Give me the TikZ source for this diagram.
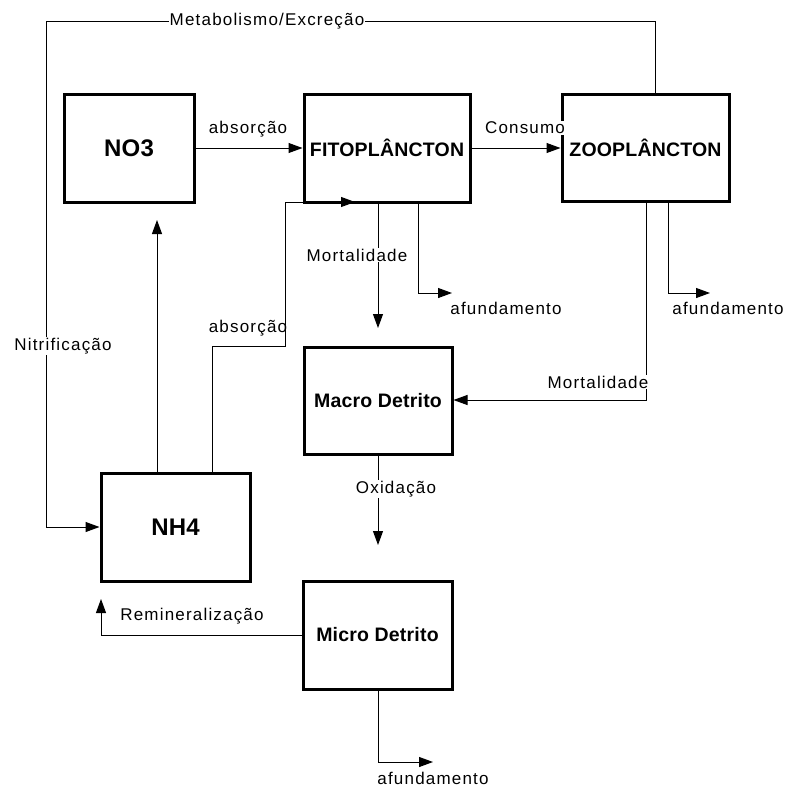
\documentclass[tikz,border=0pt]{standalone}
\usepackage{fontspec}
\setmainfont{Liberation Sans}
\newfontfamily\lblfont[LetterSpace=7]{Liberation Sans}
\newfontfamily\boxfont[LetterSpace=1]{Liberation Sans}
\usetikzlibrary{arrows.meta}
\tikzset{
  blk/.style={draw, line width=3pt, rectangle, inner sep=0pt, align=center,
    font=\boxfont\bfseries\fontsize{19.5}{22}\selectfont},
  bigblk/.style={blk, font=\boxfont\bfseries\fontsize{24}{26}\selectfont},
  arr/.style={line width=1pt, -{Triangle[length=14pt,width=10pt]}},
  ln/.style={line width=1pt},
  lbl/.style={inner sep=1pt, font=\lblfont\fontsize{17}{19}\selectfont},
  wlbl/.style={lbl, fill=white},
}
\begin{document}
\begin{tikzpicture}[x=1pt,y=-1pt]
\path[use as bounding box] (0,0) rectangle (787,788);

% boxes
\node[bigblk, minimum width=130pt, minimum height=108pt] (no3) at (129,148) {NO3};
\node[blk, minimum width=166pt, minimum height=108pt] (fito) at (387,148) {FITOPLÂNCTON};
\node[blk, minimum width=167pt, minimum height=107pt] (zoo) at (645.5,148) {ZOOPLÂNCTON};
\node[blk, minimum width=148pt, minimum height=107pt] (macro) at (378,401) {Macro Detrito};
\node[bigblk, minimum width=149pt, minimum height=108pt] (nh4) at (175.5,527) {NH4};
\node[blk, minimum width=149pt, minimum height=108pt] (micro) at (377.5,635) {Micro Detrito};

% coordinates
\coordinate (m1) at (655,21);
\coordinate (m2) at (46,21);
\coordinate (n1) at (157,220);
\coordinate (a1) at (212,346);
\coordinate (a2) at (285,346);
\coordinate (a3) at (355,202);
\coordinate (d1) at (378,328);
\coordinate (f0) at (418,293);
\coordinate (f1) at (452,293);
\coordinate (z0) at (668,293);
\coordinate (z1) at (710,293);
\coordinate (zm) at (646,400);
\coordinate (o1) at (378,545);
\coordinate (r1) at (101,599);
\coordinate (s0) at (378,762);
\coordinate (s1) at (433,762);

% connectors
\draw[arr] (no3.east) -- (fito.west);
\draw[arr] (fito.east) -- (fito.east -| zoo.west);
\draw[arr] (m1 |- zoo.north) -- (m1) -- (m2) |- (nh4.west);
\draw[arr] (n1 |- nh4.north) -- (n1);
\draw[arr] (a1 |- nh4.north) -- (a1) -- (a2) |- (a3);
\draw[arr] (d1 |- fito.south) -- (d1);
\draw[arr] (f0 |- fito.south) -- (f0) -- (f1);
\draw[arr] (z0 |- zoo.south) -- (z0) -- (z1);
\draw[arr] (zm |- zoo.south) -- (zm) -- (zm -| macro.east);
\draw[arr] (o1 |- macro.south) -- (o1);
\draw[arr] (micro.west) -| (r1);
\draw[arr] (s0 |- micro.south) -- (s0) -- (s1);

% labels
\node[wlbl] (lmet) at (267,21) {Metabolismo/Excreção};
\node[wlbl] (lnit) at (63,346) {Nitrificação};
\node[lbl] (labs1) at (248,129) {absorção};
\node[wlbl] (lcons) at (525,128) {Consumo};
\node[lbl] (labs2) at (248,328) {absorção};
\node[wlbl] (lmort1) at (357,255) {Mortalidade};
\node[lbl] (lafu1) at (506,308) {afundamento};
\node[lbl] (lafu2) at (728,308) {afundamento};
\node[wlbl] (lmort2) at (598,382) {Mortalidade};
\node[wlbl] (loxi) at (396,489) {Oxidação};
\node[lbl] (lrem) at (192,616) {Remineralização};
\node[lbl] (lafu3) at (433,778) {afundamento};
\end{tikzpicture}
\end{document}
